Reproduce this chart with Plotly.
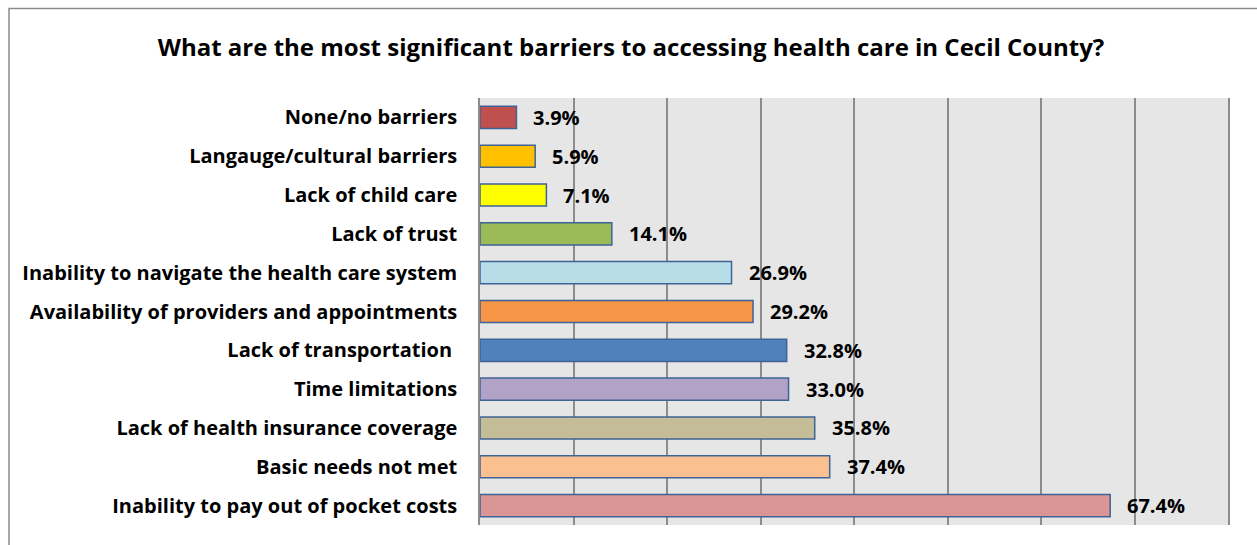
import plotly.graph_objects as go

categories = [
    "None/no barriers",
    "Langauge/cultural barriers",
    "Lack of child care",
    "Lack of trust",
    "Inability to navigate the health care system",
    "Availability of providers and appointments",
    "Lack of transportation ",
    "Time limitations",
    "Lack of health insurance coverage",
    "Basic needs not met",
    "Inability to pay out of pocket costs",
]
values = [3.9, 5.9, 7.1, 14.1, 26.9, 29.2, 32.8, 33.0, 35.8, 37.4, 67.4]
colors = ["#C0504D", "#FFC000", "#FFFF00", "#9BBB59", "#B7DEE8", "#F79646",
          "#4F81BD", "#B3A2C7", "#C4BD97", "#FAC090", "#D99694"]
title_text = "What are the most significant barriers to accessing health care in Cecil County?"
x_ticks = [0, 10, 20, 30, 40, 50, 60, 70, 80]

W, H = 1257, 545
L, R, T, B = 480, 29, 98, 20
pw, ph = W - L - R, H - T - B

FONT = "Open Sans"

fig = go.Figure()
fig.add_trace(go.Bar(
    y=categories, x=values, orientation="h",
    marker=dict(color=colors, line=dict(color="#3F6396", width=1.5)),
    width=0.57, hoverinfo="skip",
))

for c, v in zip(categories, values):
    fig.add_annotation(x=v, y=c, text=f"{v:.1f}%", showarrow=False,
                       xanchor="left", xshift=15,
                       font=dict(family=FONT, size=20, color="black", weight="bold"))

def px_x(p):
    return (p - L) / pw

def px_y(p):
    return (H - B - p) / ph

fig.add_shape(type="rect", xref="paper", yref="paper",
              x0=px_x(9), x1=px_x(1262), y0=px_y(550), y1=px_y(8.5),
              line=dict(color="#8C8C8C", width=1.5), fillcolor="rgba(0,0,0,0)", layer="below")

fig.update_layout(
    width=W, height=H,
    margin=dict(l=L, r=R, t=T, b=B, pad=0),
    paper_bgcolor="white", plot_bgcolor="#E6E6E6",
    showlegend=False,
    title=dict(text=title_text, x=631 / W, xanchor="center", y=1 - 48 / H, yanchor="middle",
               xref="container", yref="container",
               font=dict(family=FONT, size=24, color="black", weight="bold")),
    xaxis=dict(range=[0, 80], tickvals=x_ticks, showticklabels=False, showgrid=True,
               gridcolor="#8C8C8C", gridwidth=1.5, zeroline=False, ticks="", fixedrange=True),
    yaxis=dict(categoryorder="array", categoryarray=categories, autorange="reversed",
               showline=True, linecolor="#8C8C8C", linewidth=1.5, mirror=True,
               ticks="", ticklabelstandoff=17, showgrid=False, automargin=False,
               fixedrange=True,
               tickfont=dict(family=FONT, size=20, color="black", weight="bold")),
)

fig.write_html("out.html", config={"displayModeBar": False},
               post_script="document.body.style.margin='0';")
